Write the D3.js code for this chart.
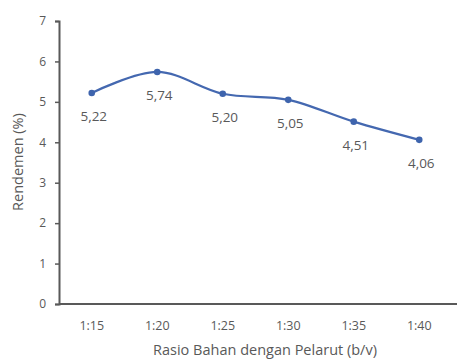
<!DOCTYPE html>
<html>
<head>
<meta charset="utf-8">
<script src="https://cdn.jsdelivr.net/npm/d3@7"></script>
<style>
  body { margin: 0; background: #fff; }
  text { font-family: "Open Sans", "Liberation Sans", sans-serif; fill: #595959; }
</style>
</head>
<body>
<div id="chart"></div>
<script>
// data
const rasio = ["1:15", "1:20", "1:25", "1:30", "1:35", "1:40"];
const rendemen = [5.22, 5.74, 5.20, 5.05, 4.51, 4.06];
const labelRendemen = ["5,22", "5,74", "5,20", "5,05", "4,51", "4,06"];
const yTicks = [0, 1, 2, 3, 4, 5, 6, 7];

const lebar = 458, tinggi = 361;
const margin = { top: 21, right: 1, bottom: 57, left: 59 };

const svg = d3.select("#chart").append("svg")
    .attr("width", lebar)
    .attr("height", tinggi);

const x = d3.scaleBand()
    .domain(rasio)
    .range([margin.left, lebar - 6])
    .padding(0);

const y = d3.scaleLinear()
    .domain([0, 7])
    .range([tinggi - margin.bottom, margin.top]);

// sumbu y
const yAxis = svg.append("g")
    .attr("transform", `translate(${margin.left},0)`)
    .call(d3.axisLeft(y).tickValues(yTicks).tickSize(4).tickPadding(9).tickFormat(d3.format("d")));
yAxis.select(".domain").attr("stroke", "#595959").attr("stroke-width", 2);
yAxis.selectAll(".tick line").attr("stroke", "#595959").attr("stroke-width", 1.5);
yAxis.selectAll("text").style("font-size", "12px").attr("fill", "#595959");

// sumbu x
const xAxis = svg.append("g")
    .attr("transform", `translate(0,${y(0)})`)
    .call(d3.axisBottom(x).tickSize(0).tickPadding(17));
xAxis.select(".domain").attr("d", `M${margin.left},0H${lebar - 1}`)
    .attr("stroke", "#595959").attr("stroke-width", 2);
xAxis.selectAll("text").style("font-size", "12.5px").attr("fill", "#595959");

// garis
const data = rasio.map((r, i) => ({ r, v: rendemen[i], lbl: labelRendemen[i] }));

const line = d3.line()
    .x(d => x(d.r) + x.bandwidth() / 2)
    .y(d => y(d.v))
    .curve(d3.curveCatmullRom.alpha(0));

svg.append("path")
    .datum(data)
    .attr("d", line)
    .attr("fill", "none")
    .attr("stroke", "#4468b0")
    .attr("stroke-width", 2.2);

svg.selectAll(".titik")
    .data(data)
    .enter().append("circle")
    .attr("class", "titik")
    .attr("cx", d => x(d.r) + x.bandwidth() / 2)
    .attr("cy", d => y(d.v))
    .attr("r", 3.3)
    .attr("fill", "#3e64ad");

// label nilai
svg.selectAll(".nilai")
    .data(data)
    .enter().append("text")
    .attr("class", "nilai")
    .attr("x", d => x(d.r) + x.bandwidth() / 2 + 2)
    .attr("y", d => y(d.v) + 28)
    .attr("text-anchor", "middle")
    .style("font-size", "13.5px")
    .text(d => d.lbl);

// judul sumbu
svg.append("text")
    .attr("x", 265)
    .attr("y", 355)
    .attr("text-anchor", "middle")
    .style("font-size", "14.5px")
    .text("Rasio Bahan dengan Pelarut (b/v)");

svg.append("text")
    .attr("transform", `translate(23,162) rotate(-90)`)
    .attr("text-anchor", "middle")
    .style("font-size", "14.5px")
    .text("Rendemen (%)");
</script>
</body>
</html>
